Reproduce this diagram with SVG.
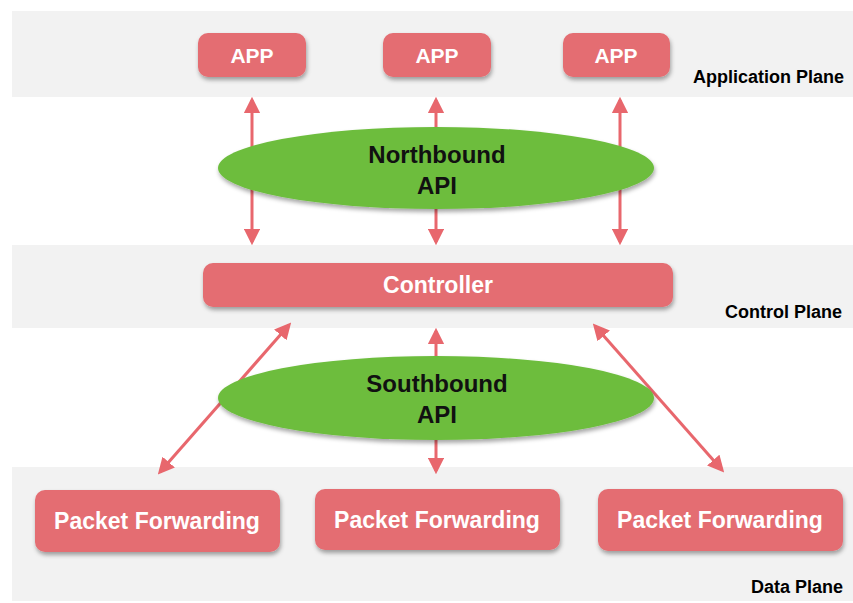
<svg xmlns="http://www.w3.org/2000/svg" width="853" height="603" viewBox="0 0 853 603">
<defs>
<style>
.band{fill:#f2f2f2}
.edge{stroke:#7a7a7a;stroke-width:3;fill:none}
.box{fill:#e46d72}
.ell{fill:#6dbd3e}
.wt{fill:#ffffff;font-family:"Liberation Sans",Arial,sans-serif;font-weight:bold;text-anchor:middle}
.bt{fill:#111111;font-family:"Liberation Sans",Arial,sans-serif;font-weight:bold;text-anchor:middle}
.pl{fill:#000000;font-family:"Liberation Sans",Arial,sans-serif;font-weight:bold;font-size:18px}
.arr{stroke:#e8676d;stroke-width:3;fill:none;marker-start:url(#ah);marker-end:url(#ah)}
</style>
<marker id="ah" viewBox="0 0 10 10" refX="8" refY="5" markerWidth="5.5" markerHeight="5.5" orient="auto-start-reverse" markerUnits="strokeWidth">
<path d="M0,0 L10,5 L0,10 z" fill="#e8676d"/>
</marker>
<filter id="sh" x="-10%" y="-20%" width="120%" height="150%">
<feDropShadow dx="1" dy="3" stdDeviation="2" flood-color="#000" flood-opacity="0.35"/>
</filter>
<filter id="blur"><feGaussianBlur stdDeviation="1"/></filter>
</defs>

<g id="application-plane">
<rect class="band" x="12" y="11" width="841" height="86"/>
<line class="edge" x1="12" y1="97" x2="853" y2="97" filter="url(#blur)"/>
<text class="pl" x="693" y="83">Application Plane</text>
</g>
<g id="control-plane">
<rect class="band" x="12" y="245" width="841" height="83"/>
<line class="edge" x1="12" y1="328" x2="853" y2="328" filter="url(#blur)"/>
<text class="pl" x="725" y="318">Control Plane</text>
</g>
<g id="data-plane">
<rect class="band" x="12" y="467" width="841" height="134"/>
<text class="pl" x="751" y="593">Data Plane</text>
</g>

<g id="connectors">
<line class="arr" x1="252" y1="100" x2="252" y2="242"/>
<line class="arr" x1="436" y1="100" x2="436" y2="242"/>
<line class="arr" x1="620" y1="100" x2="620" y2="242"/>
<line class="arr" x1="436" y1="331" x2="436" y2="471"/>
<line class="arr" x1="289" y1="325" x2="160" y2="472"/>
<line class="arr" x1="595" y1="326" x2="722" y2="470"/>
</g>

<g id="northbound-api">
<ellipse class="ell" cx="436" cy="168" rx="218" ry="41" filter="url(#sh)"/>
<text class="bt" x="437" y="163" font-size="24">Northbound</text>
<text class="bt" x="437" y="194" font-size="24">API</text>
</g>
<g id="southbound-api">
<ellipse class="ell" cx="436" cy="398" rx="218" ry="42" filter="url(#sh)"/>
<text class="bt" x="437" y="392" font-size="24">Southbound</text>
<text class="bt" x="437" y="423" font-size="24">API</text>
</g>

<g id="app1"><rect class="box" x="198" y="33" width="108" height="44" rx="10" filter="url(#sh)"/><text class="wt" x="252" y="63" font-size="21">APP</text></g>
<g id="app2"><rect class="box" x="383" y="33" width="108" height="44" rx="10" filter="url(#sh)"/><text class="wt" x="437" y="63" font-size="21">APP</text></g>
<g id="app3"><rect class="box" x="563" y="33" width="107" height="44" rx="10" filter="url(#sh)"/><text class="wt" x="616" y="63" font-size="21">APP</text></g>

<g id="controller"><rect class="box" x="203" y="263" width="470" height="44" rx="10" filter="url(#sh)"/><text class="wt" x="438" y="293" font-size="23">Controller</text></g>

<g id="pf1"><rect class="box" x="35" y="490" width="245" height="62" rx="10" filter="url(#sh)"/><text class="wt" x="157" y="529" font-size="23">Packet Forwarding</text></g>
<g id="pf2"><rect class="box" x="315" y="489" width="245" height="61" rx="10" filter="url(#sh)"/><text class="wt" x="437" y="528" font-size="23">Packet Forwarding</text></g>
<g id="pf3"><rect class="box" x="598" y="489" width="245" height="62" rx="10" filter="url(#sh)"/><text class="wt" x="720" y="528" font-size="23">Packet Forwarding</text></g>
</svg>
